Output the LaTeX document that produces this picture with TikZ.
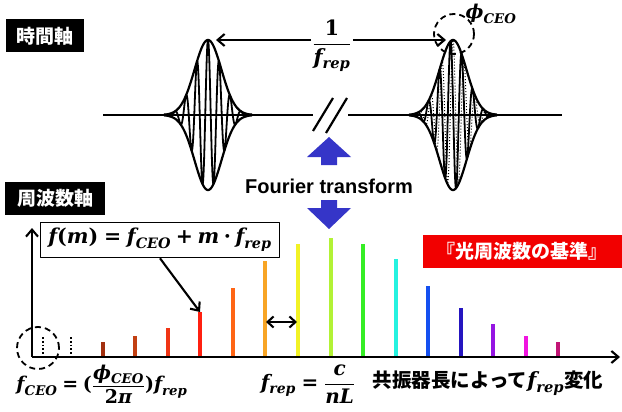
\documentclass[tikz,border=0pt]{standalone}
\usepackage{amsmath}
\usepackage{fontspec}
\setsansfont{Liberation Sans}
\newfontfamily\jpfont{Noto Sans CJK JP}
\newfontfamily\eqfont{DejaVu Serif}
\newcommand\ev[1]{\text{\eqfont\bfseries\itshape #1}}
\newcommand\eu[1]{\text{\eqfont\bfseries #1}}
\usetikzlibrary{arrows.meta,positioning}

\definecolor{fourierblue}{HTML}{3535C8}
\definecolor{combred}{HTML}{F20000}
\definecolor{barA}{HTML}{A2300F}
\definecolor{barB}{HTML}{C24012}
\definecolor{barC}{HTML}{F03515}
\definecolor{barD}{HTML}{FF2010}
\definecolor{barE}{HTML}{FF6515}
\definecolor{barF}{HTML}{F8A525}
\definecolor{barG}{HTML}{F2F225}
\definecolor{barH}{HTML}{B2F235}
\definecolor{barI}{HTML}{35EE25}
\definecolor{barJ}{HTML}{25F2E0}
\definecolor{barK}{HTML}{1550F0}
\definecolor{barL}{HTML}{2515C0}
\definecolor{barM}{HTML}{9515E2}
\definecolor{barN}{HTML}{F015E0}
\definecolor{barO}{HTML}{C21575}

\begin{document}
\begin{tikzpicture}[x=1pt, y=-1pt, line join=round,
  axisbox/.style={fill=black, text=white, font=\jpfont\bfseries\fontsize{19}{20}\selectfont, minimum height=33pt, inner sep=2pt},
  tagbox/.style={fill=combred, text=white, font=\jpfont\bfseries\fontsize{19}{20}\selectfont, minimum height=33pt, minimum width=199pt, inner sep=2pt},
  formbox/.style={draw, line width=1.6pt, fill=white, font=\fontsize{20.5}{22}\selectfont, minimum height=35pt, minimum width=239pt, inner sep=2pt},
  mathlbl/.style={font=\fontsize{19}{22}\selectfont, inner sep=1pt},
  ring/.style={draw, dashed, circle, line width=1.8pt, dash pattern=on 6pt off 4pt},
  wave/.style={line width=2.2pt},
  bar/.style={line width=3.8pt},
  conn/.style={line width=2.1pt, -{Straight Barb[length=7pt, width=12pt]}}]
\useasboundingbox (0,0) rectangle (622,412);

% labels of the two axes
\node[axisbox, minimum width=78pt] (timelbl) at (45,36) {時間軸};
\node[axisbox, minimum width=100pt] (freqlbl) at (55,198) {周波数軸};

% time axis
\coordinate (tstart) at (103,115);
\coordinate (tbreakl) at (313,115);
\coordinate (tbreakr) at (348,115);
\coordinate (tend) at (562,115);
\draw[wave] (tstart) -- (tbreakl);
\draw[wave] (tbreakr) -- (tend);
\draw[wave] (313,131) -- (333,98);
\draw[wave] (326,133) -- (347,98);

% first pulse
\draw[wave] plot[domain=-44:44, samples=120] ({208+\x},{115-75*exp(-(\x/19)^2)});
\draw[wave] plot[domain=-44:44, samples=120] ({208+\x},{115+75*exp(-(\x/19)^2)});
\draw[line width=1.8pt] plot[domain=-44:44, samples=500] ({208+\x},{115-75*exp(-(\x/19)^2)*cos(360*\x/11)});

% second pulse, carrier shifted by phi_CEO
\draw[wave] plot[domain=-44:44, samples=120] ({453+\x},{115-75*exp(-(\x/19)^2)});
\draw[wave] plot[domain=-44:44, samples=120] ({453+\x},{115+75*exp(-(\x/19)^2)});
\draw[line width=1pt, dotted] plot[domain=-44:44, samples=500] ({453+\x},{115-75*exp(-(\x/19)^2)*cos(360*\x/11)});
\draw[line width=1.8pt] plot[domain=-44:44, samples=500] ({453+\x},{115-75*exp(-(\x/19)^2)*cos(360*\x/11+80)});

\coordinate (lpeak) at (216,40);
\coordinate (rpeak) at (446,40);
\node[mathlbl, font=\fontsize{21}{24}\selectfont] (period) at (332,46) {$\dfrac{\eu{1}}{\ev{f}_{\ev{rep}}}$};
\draw[conn] (period.west |- lpeak) -- (lpeak);
\draw[conn] (period.east |- rpeak) -- (rpeak);
\node[ring, minimum size=40pt] (ceoring) at (454,34) {};
\node[mathlbl] (phi) at (491,14) {$\ev{ϕ}_{\ev{CEO}}$};

% Fourier transform
\fill[fourierblue] (329,137) -- (351,157) -- (337,157) -- (337,165) -- (321,165) -- (321,157) -- (307,157) -- cycle;
\fill[fourierblue] (329,229) -- (351,208) -- (337,208) -- (337,200) -- (321,200) -- (321,208) -- (307,208) -- cycle;
\node[fill=white, font=\sffamily\bfseries\fontsize{20}{22}\selectfont, inner sep=1.5pt] (ft) at (329,186) {Fourier transform};

% frequency axis
\coordinate (origin) at (32,357);
\draw[conn] (origin) -- (32,228);
\draw[conn] (origin) -- (620,357);
\draw[line width=1.8pt, dotted] (43,337) -- (43,357);
\draw[line width=1.8pt, dotted] (71,337) -- (71,357);
\node[ring, minimum size=42pt] (offring) at (38,348) {};

% comb lines
\foreach \xb/\yt/\col [count=\i] in {103/342/barA, 135/336/barB, 168/328/barC, 200/312/barD, 233/288/barE,
    265/261/barF, 298/244/barG, 331/238/barH, 363/244/barI, 396/259/barJ, 428/286/barK,
    461/308/barL, 493/324/barM, 526/336/barN, 558/342/barO}
  {\draw[bar, \col] (\xb,355.5) -- (\xb,\yt);
   \coordinate (top\i) at (\xb,\yt);}

\coordinate (gapl) at (266,322);
\coordinate (gapr) at (297,322);
\draw[line width=2.1pt, {Straight Barb[length=6pt, width=11pt]}-{Straight Barb[length=6pt, width=11pt]}] (gapl) -- (gapr);

\node[formbox] (mode) at (160,240) {$\ev{f}\eu{(}\ev{m}\eu{)}\mathrel{\eu{=}}\ev{f}_{\ev{CEO}}\mathbin{\eu{+}}\ev{m}\mathbin{\eu{·}}\ev{f}_{\ev{rep}}$};
\draw[conn] (mode.south) -- (top4);
\node[tagbox] (tag) at (522,251) {『光周波数の基準』};

% bottom labels
\node[mathlbl, font=\fontsize{19}{22}\selectfont] (ceolbl) at (102,384) {$\ev{f}_{\ev{CEO}}\mathrel{\eu{=}}\eu{(}\dfrac{\ev{ϕ}_{\ev{CEO}}}{\eu{2}\ev{π}}\eu{)}\ev{f}_{\ev{rep}}$};
\node[mathlbl, font=\fontsize{20}{22}\selectfont] (replbl) at (308,384) {$\ev{f}_{\ev{rep}}\mathrel{\eu{=}}\dfrac{\ev{c}}{\ev{nL}}$};
\node[font=\jpfont\bfseries\fontsize{19.5}{21}\selectfont, inner sep=1pt] (cavity) at (488,383) {共振器長によって{\fontsize{21}{22}\selectfont$\ev{f}_{\ev{rep}}$}変化};
\end{tikzpicture}
\end{document}
